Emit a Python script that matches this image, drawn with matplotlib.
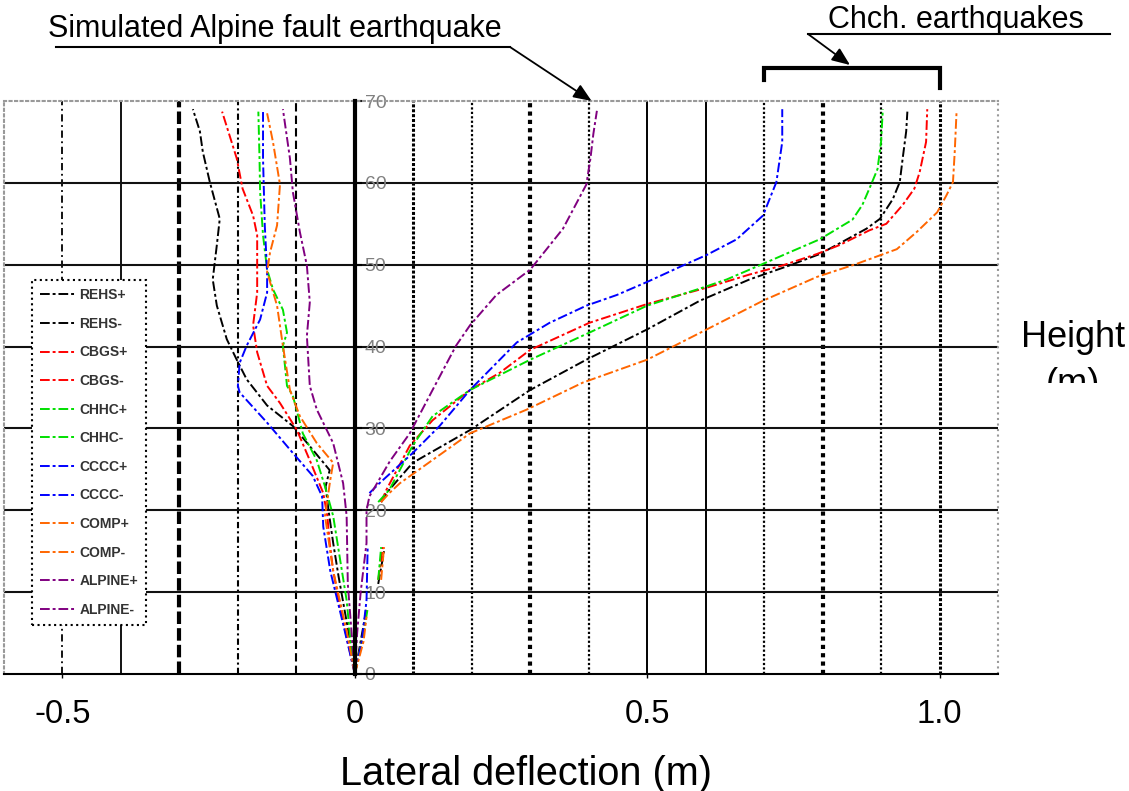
import numpy as np
import matplotlib.pyplot as plt
from matplotlib.lines import Line2D
from matplotlib.transforms import Bbox, blended_transform_factory

plt.rcParams['font.family'] = ['Liberation Sans', 'DejaVu Sans']

nan = np.nan

# lateral deflection (m) against height (m)
rehs_p_h = [0, 4, 8, nan, 11, 15, nan, 21, 22.1, 25.8, 29.8, 34.7, 38.4, 42.1, 45.6, 48.2, 49.9, 51.3, 52.8, 54.4, 55.6, 58, 60.1, 63, 66.3, 68.7]
rehs_p_x = [0, 0.01, 0.02, nan, 0.04, 0.05, nan, 0.045, 0.054, 0.099, 0.197, 0.3, 0.396, 0.5, 0.59, 0.675, 0.743, 0.795, 0.834, 0.875, 0.898, 0.92, 0.932, 0.937, 0.943, 0.945]
rehs_m_h = [0, 4, 8, 12, 16, 20, 22.9, 24.9, 27.4, 30.3, 32.8, 36, 38.4, 40.9, 45, 48.2, 52.4, 55.6, 60.1, 63.8, 66.3, 69]
rehs_m_x = [0, -0.008, -0.018, -0.028, -0.037, -0.045, -0.05, -0.043, -0.072, -0.106, -0.15, -0.185, -0.202, -0.219, -0.236, -0.243, -0.236, -0.231, -0.248, -0.26, -0.265, -0.277]

cbgs_p_h = [0, 5, 8, nan, 11.5, 15.5, nan, 21, 22.5, 27.9, 31, 34.7, 36.8, 39.6, 42.9, 45.2, 47.2, 48.8, 49.9, 51.3, 52.4, 54.2, 55, 57.3, 59.3, 61.3, 65, 69]
cbgs_p_x = [0, 0.015, 0.02, nan, 0.04, 0.048, nan, 0.045, 0.054, 0.094, 0.133, 0.197, 0.248, 0.3, 0.401, 0.5, 0.602, 0.675, 0.731, 0.79, 0.829, 0.88, 0.909, 0.937, 0.957, 0.966, 0.977, 0.979]
cbgs_m_h = [0, 4.5, 8, 12.6, 16, 19.3, 22.1, 26.1, 29.8, 33.1, 35.2, 39.3, 42.6, 46.6, 49.9, 53.6, 56, 59.3, 63, 68.7]
cbgs_m_x = [0, -0.014, -0.025, -0.037, -0.043, -0.047, -0.054, -0.077, -0.099, -0.128, -0.15, -0.167, -0.174, -0.167, -0.167, -0.167, -0.174, -0.192, -0.202, -0.227]

chhc_p_h = [0, 5, 8, nan, 11.5, 15.5, nan, 21, 22.5, 27.9, 31.5, 34.7, 38.4, 41.7, 45, 47.2, 48.2, 50.1, 51.5, 53.1, 55.5, 57.3, 59.8, 61.7, 65, 69]
chhc_p_x = [0, 0.015, 0.022, nan, 0.04, 0.045, nan, 0.04, 0.059, 0.099, 0.133, 0.197, 0.3, 0.401, 0.5, 0.595, 0.636, 0.698, 0.743, 0.795, 0.851, 0.868, 0.883, 0.894, 0.9, 0.903]
chhc_m_h = [0, 4.5, 9, 13.9, 19.3, 22.9, 26.1, 29.4, 34, 35.2, 40.1, 41.7, 44.5, 47, 49.4, 53.6, 58.9, 63, 68.7]
chhc_m_x = [0, -0.008, -0.014, -0.025, -0.037, -0.051, -0.065, -0.089, -0.106, -0.116, -0.123, -0.116, -0.123, -0.14, -0.15, -0.157, -0.162, -0.163, -0.165]

cccc_p_h = [0, 4, 9, 15.6, nan, 22.1, 23.3, 27, 30.3, 34.7, 38.4, 40.5, 42.9, 45, 46.3, 47.9, 49.9, 51.2, 53.1, 56, 60.1, 65, 69]
cccc_p_x = [0, 0.012, 0.02, 0.022, nan, 0.025, 0.042, 0.099, 0.145, 0.197, 0.248, 0.277, 0.333, 0.396, 0.448, 0.5, 0.561, 0.602, 0.653, 0.698, 0.721, 0.731, 0.731]
cccc_m_h = [0, 6.1, 12.6, 18, 21.7, 24.2, 27, 30.7, 34.4, 35.2, 38, 40.1, 43.3, 46.6, 49.1, 54.8, 63, 69]
cccc_m_x = [0, -0.02, -0.042, -0.054, -0.056, -0.072, -0.106, -0.15, -0.197, -0.2, -0.197, -0.185, -0.162, -0.15, -0.15, -0.154, -0.157, -0.157]

comp_p_h = [0, 4, 7, nan, 11.5, 15.5, nan, 21, 22.1, 23.3, 29.4, 32.3, 35.6, 38.4, 42.1, 45.6, 48.5, 50.1, 51.9, 54, 56.4, 58.5, 60.1, 63.8, 68.5]
comp_p_x = [0, 0.015, 0.02, nan, 0.045, 0.05, nan, 0.045, 0.059, 0.077, 0.197, 0.294, 0.39, 0.5, 0.602, 0.698, 0.79, 0.858, 0.927, 0.961, 0.996, 1.012, 1.023, 1.026, 1.029]
comp_m_h = [0, 5.3, 12.6, 19.3, 23.7, 25.8, 28.2, 31.5, 34.7, 40.1, 45, 49.1, 51.5, 54.8, 59.8, 65, 68.5]
comp_m_x = [0, -0.014, -0.037, -0.051, -0.042, -0.037, -0.065, -0.094, -0.111, -0.123, -0.133, -0.15, -0.145, -0.133, -0.128, -0.14, -0.15]

alpine_p_h = [0, 5, 10, 16, 20, 21.7, 26, 29.4, 34.7, 40.1, 42.6, 46.3, 49.4, 54.4, 59.8, 63, 66, 68.8]
alpine_p_x = [0, 0.004, 0.01, 0.02, 0.02, 0.025, 0.06, 0.094, 0.133, 0.173, 0.197, 0.242, 0.3, 0.356, 0.396, 0.403, 0.408, 0.414]
alpine_m_h = [0, 11, 19.3, 23.3, 28.2, 32.3, 35.2, 41.3, 45.4, 49.9, 54, 58.9, 63, 69]
alpine_m_x = [0, -0.012, -0.014, -0.02, -0.037, -0.065, -0.077, -0.082, -0.077, -0.082, -0.094, -0.106, -0.111, -0.123]

series = [
    ('REHS+', rehs_p_x, rehs_p_h, '#000000'),
    ('REHS-', rehs_m_x, rehs_m_h, '#000000'),
    ('CBGS+', cbgs_p_x, cbgs_p_h, '#ff0000'),
    ('CBGS-', cbgs_m_x, cbgs_m_h, '#ff0000'),
    ('CHHC+', chhc_p_x, chhc_p_h, '#00e000'),
    ('CHHC-', chhc_m_x, chhc_m_h, '#00e000'),
    ('CCCC+', cccc_p_x, cccc_p_h, '#0000ff'),
    ('CCCC-', cccc_m_x, cccc_m_h, '#0000ff'),
    ('COMP+', comp_p_x, comp_p_h, '#ff6600'),
    ('COMP-', comp_m_x, comp_m_h, '#ff6600'),
    ('ALPINE+', alpine_p_x, alpine_p_h, '#800080'),
    ('ALPINE-', alpine_m_x, alpine_m_h, '#800080'),
]

x_ticks = [-0.5, 0, 0.5, 1.0]
x_ticklabels = ['-0.5', '0', '0.5', '1.0']
y_ticks = [0, 10, 20, 30, 40, 50, 60, 70]

# the vertical grid lines each have their own style in the original
grid_x = [-0.5, -0.4, -0.3, -0.2, -0.1, 0.1, 0.2, 0.3, 0.4, 0.5, 0.6, 0.7, 0.8, 0.9, 1.0]
grid_style = [
    ((0, (4, 2, 1, 2)), 1.3),
    ('-', 1.3),
    ((0, (3, 1)), 3.0),
    ((0, (3, 1.5, 1, 1.5)), 1.5),
    ((0, (4, 2)), 1.5),
    ((0, (1, 0.6)), 2.2),
    ((0, (1, 1)), 1.6),
    ((0, (1, 1)), 3.0),
    ((0, (1, 1)), 1.6),
    ('-', 1.4),
    ('-', 1.4),
    ((0, (1, 1)), 1.6),
    ((0, (1, 1)), 3.0),
    ((0, (1, 1)), 1.6),
    ((0, (1, 0.6)), 2.2),
]

W, H = 1129, 791
fig = plt.figure(figsize=(W / 100, H / 100), dpi=100)
ax = fig.add_axes([4 / W, 1 - 674 / H, 994 / W, 573 / H])

for gx, (ls, lw) in zip(grid_x, grid_style):
    ax.axvline(gx, color='black', ls=ls, lw=lw, zorder=1)
for gy in y_ticks[1:-1]:
    ax.axhline(gy, color='#111111', lw=1.5, zorder=1)

for name, xs, hs, col in series:
    ax.plot(xs, hs, color=col, lw=1.4, ls=(0, (5, 1.5, 1.5, 1.5)), label=name, zorder=3)

ax.set_xlim(-0.6, 1.1)
ax.set_ylim(0, 70)

# the height axis sits at zero deflection
ax.spines['right'].set_position(('data', 0))
ax.spines['right'].set_linewidth(3)
ax.spines['right'].set_zorder(4)
ax.yaxis.tick_right()
ax.set_yticks(y_ticks)
ax.tick_params(axis='y', direction='out', length=5, width=1.5, pad=2,
               labelsize=14, labelcolor='#808080')
for s in ('left', 'top'):
    ax.spines[s].set_color('#999999')
    ax.spines[s].set_linestyle(':')
    ax.spines[s].set_linewidth(1.5)
ax.spines['bottom'].set_linewidth(1.5)
ax.axvline(1.1, color='#999999', ls=':', lw=1.5, clip_on=False)

ax.set_xticks(x_ticks)
ax.set_xticklabels(x_ticklabels)
ax.tick_params(axis='x', length=3, width=1, pad=15, labelsize=23.5)

leg = ax.legend(loc='upper left', bbox_to_anchor=(25 / W, 1 - 273 / H),
                bbox_transform=fig.transFigure, fontsize=10, frameon=True,
                fancybox=False, framealpha=1, handlelength=2.6,
                handletextpad=0.2, labelspacing=1.05, borderpad=0.6)
leg.get_frame().set_edgecolor('black')
leg.get_frame().set_linestyle(':')
leg.get_frame().set_linewidth(1.5)
for t in leg.get_texts():
    t.set_color('#333333')
    t.set_fontweight('bold')
leg.set_zorder(5)

fig.text(526 / W, 1 - 785 / H, 'Lateral deflection (m)', fontsize=28.5,
         ha='center', va='baseline')
fig.text(1073 / W, 1 - 347 / H, 'Height', fontsize=26, ha='center', va='baseline')
t = fig.text(1073 / W, 1 - 394 / H, '(m)', fontsize=26, ha='center', va='baseline')
t.set_clip_box(Bbox.from_extents(1000, H - 383, W, H))
t.set_clip_on(True)

# annotations above the plot
fig.text(48 / W, 1 - 37 / H, 'Simulated Alpine fault earthquake', fontsize=22,
         va='baseline')
fig.add_artist(Line2D([56 / W, 510 / W], [1 - 47 / H] * 2, color='black', lw=1.5))
ax.annotate('', xy=(0.405, 70), xycoords='data', xytext=(510, H - 47),
            textcoords='figure pixels',
            arrowprops=dict(arrowstyle='-|>,head_length=1.1,head_width=0.45',
                            color='black', lw=1.3, shrinkA=0, shrinkB=0))

fig.text(828 / W, 1 - 28 / H, 'Chch. earthquakes', fontsize=22, va='baseline')
fig.add_artist(Line2D([808 / W, 1110 / W], [1 - 34 / H] * 2, color='black', lw=1.5))
ax.annotate('', xy=(850, H - 65), xycoords='figure pixels', xytext=(808, H - 34),
            textcoords='figure pixels',
            arrowprops=dict(arrowstyle='-|>,head_length=1.1,head_width=0.45',
                            color='black', lw=1.3, shrinkA=0, shrinkB=0))
tr = blended_transform_factory(ax.transData, fig.transFigure)
ax.plot([0.7, 0.7, 1.0, 1.0], [1 - 80 / H, 1 - 68 / H, 1 - 68 / H, 1 - 88 / H],
        color='black', lw=3, transform=tr, clip_on=False, solid_joinstyle='miter')

fig.savefig('out.png', dpi=100)
